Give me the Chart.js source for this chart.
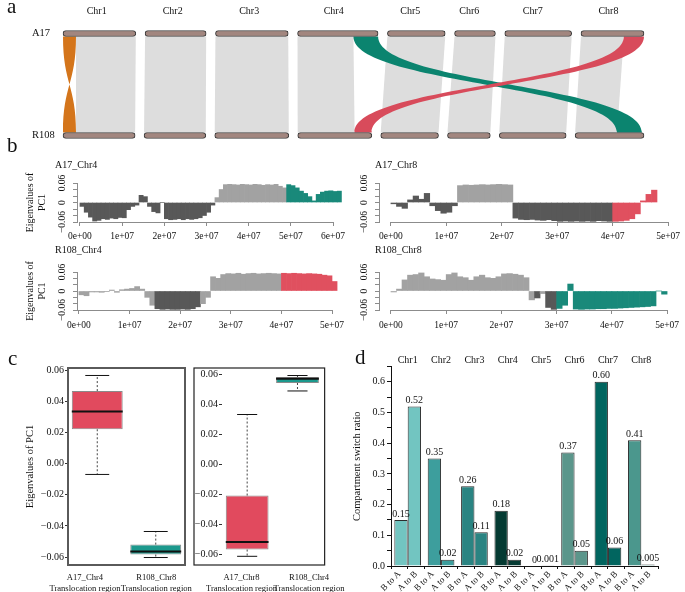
<!DOCTYPE html>
<html lang="en">
<head>
<meta charset="utf-8">
<title>A17 / R108 translocation and compartment switch</title>
<script src="https://cdn.jsdelivr.net/npm/chart.js@4.4.1/dist/chart.umd.min.js"></script>
<style>
* { margin: 0; padding: 0; box-sizing: border-box; }
body { width: 685px; height: 592px; background: #fff; position: relative; overflow: hidden;
  font-family: "Liberation Serif", "Times New Roman", serif; color: #111; }
canvas, .txt { position: absolute; }
.letter { font-size: 21px; line-height: 21px; }
.sub { font-size: 10px; line-height: 10px; }
</style>
</head>
<body>
<canvas id="cA" width="685" height="150" style="left:0;top:0"></canvas>
<canvas id="cB1" width="350" height="95" style="left:0;top:150px"></canvas>
<canvas id="cB2" width="340" height="95" style="left:345px;top:150px"></canvas>
<canvas id="cB3" width="350" height="95" style="left:0;top:240px"></canvas>
<canvas id="cB4" width="340" height="95" style="left:345px;top:240px"></canvas>
<canvas id="cC1" width="195" height="252" style="left:0;top:340px"></canvas>
<canvas id="cC2" width="158" height="252" style="left:190px;top:340px"></canvas>
<canvas id="cD" width="340" height="252" style="left:345px;top:340px"></canvas>

<div class="txt letter" style="left:7px;top:-4px">a</div>
<div class="txt letter" style="left:7px;top:135px">b</div>
<div class="txt letter" style="left:8px;top:348px">c</div>
<div class="txt letter" style="left:355px;top:347px">d</div>
<div class="txt sub" style="left:55px;top:160px">A17_Chr4</div>
<div class="txt sub" style="left:375px;top:160px">A17_Chr8</div>
<div class="txt sub" style="left:55px;top:245px">R108_Chr4</div>
<div class="txt sub" style="left:375px;top:245px">R108_Chr8</div>

<script>
Chart.defaults.font.family = '"Liberation Serif", "Times New Roman", serif';
Chart.defaults.font.size = 10;
Chart.defaults.color = '#111';
Chart.defaults.animation = false;
Chart.defaults.responsive = false;
Chart.defaults.events = [];
Chart.defaults.plugins.legend.display = false;
Chart.defaults.plugins.tooltip.enabled = false;

// ---------------- panel a: synteny between A17 and R108 ----------------
const chrNames = ['Chr1', 'Chr2', 'Chr3', 'Chr4', 'Chr5', 'Chr6', 'Chr7', 'Chr8'];
const genomes = ['A17', 'R108'];
const a17Length = [56, 47, 56, 62, 44.5, 31.5, 51.5, 48.5];
const r108Length = [55.5, 47.5, 57, 57, 44.5, 33, 51.5, 53];
// [chr, A17 start, A17 end, chr, R108 start, R108 end]
const grayLinks = [
  [0, 10, 56, 0, 10, 55.5], [1, 0, 47, 1, 0, 47.5], [2, 0, 56, 2, 0, 57],
  [3, 0, 43, 3, 0, 43.8], [4, 0, 44.5, 4, 0, 44.5], [5, 0, 31.5, 5, 0, 33],
  [6, 0, 51.5, 6, 0, 51.5], [7, 0, 33, 7, 0, 32.3]
];
const inversionLinks = [[0, 0, 10, 0, 0, 10]];
const tealLinks = [[3, 43, 62, 7, 32.3, 51.5]];
const redLinks = [[7, 33, 48.5, 3, 43.8, 57]];

const AXIS_SPAN = 447;
function rowOffsets(lens) {
  const gap = (AXIS_SPAN - lens.reduce((a, b) => a + b, 0)) / (lens.length - 1);
  let o = 0;
  return lens.map(l => { const s = o; o += l + gap; return s; });
}
const a17Off = rowOffsets(a17Length);
const r108Off = rowOffsets(r108Length);
const chromBars = [
  ...a17Length.map((l, i) => ({ x: [a17Off[i], a17Off[i] + l], y: 'A17' })),
  ...r108Length.map((l, i) => ({ x: [r108Off[i], r108Off[i] + l], y: 'R108' }))
];

const linkPlugin = {
  id: 'links',
  beforeDatasetsDraw(chart) {
    const { ctx, scales: { x, y } } = chart;
    const yt = y.getPixelForValue(0) + 3, yb = y.getPixelForValue(1) - 3, ym = (yt + yb) / 2;
    const draw = (links, color, curved, invert) => {
      ctx.fillStyle = color;
      links.forEach(([ct, t0, t1, cb, b0, b1]) => {
        const x0 = x.getPixelForValue(a17Off[ct] + t0), x1 = x.getPixelForValue(a17Off[ct] + t1);
        let u0 = x.getPixelForValue(r108Off[cb] + b0), u1 = x.getPixelForValue(r108Off[cb] + b1);
        if (invert) [u0, u1] = [u1, u0];
        ctx.beginPath();
        ctx.moveTo(x0, yt);
        ctx.lineTo(x1, yt);
        if (curved) ctx.bezierCurveTo(x1, ym, u1, ym, u1, yb); else ctx.lineTo(u1, yb);
        ctx.lineTo(u0, yb);
        if (curved) ctx.bezierCurveTo(u0, ym, x0, ym, x0, yt); else ctx.closePath();
        ctx.fill();
      });
    };
    ctx.save();
    draw(grayLinks, '#dddddd', false, false);
    draw(inversionLinks, '#d4751b', true, true);
    draw(tealLinks, '#0b846f', true, false);
    draw(redLinks, '#d84b5b', true, false);
    ctx.restore();
  }
};

new Chart(document.getElementById('cA'), {
  type: 'bar',
  data: { datasets: [{ data: chromBars, backgroundColor: '#a2867f', borderColor: '#3c3c3c',
    borderWidth: 1, borderRadius: 4, borderSkipped: false, barThickness: 6, clip: false }] },
  options: {
    indexAxis: 'y',
    layout: { padding: { left: 32, right: 41, top: 0, bottom: 14.5 } },
    scales: {
      y: { type: 'category', labels: genomes, offset: false,
        grid: { display: false }, border: { display: false },
        ticks: { crossAlign: 'far', font: { size: 10.5 } },
        afterFit: s => { s.width = 31; } },
      x: { type: 'linear', position: 'top', min: 0, max: AXIS_SPAN,
        grid: { display: false }, border: { display: false },
        afterBuildTicks: s => {
          s.ticks = chrNames.map((_, i) => ({ value: (a17Off[i] + a17Length[i] / 2 + r108Off[i] + r108Length[i] / 2) / 2 - 2 }));
        },
        ticks: { callback: (v, i) => chrNames[i], padding: 8.5, maxRotation: 0, autoSkip: false, font: { size: 10 } },
        afterFit: s => { s.height = 33.5; } }
    }
  },
  plugins: [linkPlugin]
});

// ---------------- panel b: PC1 eigenvalues, 1 Mb bins ----------------
const binSize = 1e6;
const a17Chr4 = [
  -0.012, -0.03, -0.045, -0.057, -0.055, -0.05, -0.052, -0.048, -0.05, -0.046,
  -0.047, -0.022, -0.012, -0.008, 0.022, 0.018, -0.012, -0.028, -0.032, 0,
  -0.05, -0.053, -0.052, -0.05, -0.053, -0.05, -0.052, -0.05, -0.047, -0.04,
  -0.03, -0.008, 0.015, 0.04, 0.055, 0.056, 0.055, 0.054, 0.056, 0.055,
  0.054, 0.056, 0.055, 0.053, 0.055, 0.054, 0.056, 0.05, 0.045, 0.055,
  0.052, 0.045, 0.035, 0.028, 0.018, 0.005, 0.025, 0.032, 0.035, 0.036,
  0.034, 0.035];
const a17Chr8 = [
  -0.004, -0.012, -0.018, 0.008, 0.02, 0.01, 0.028, -0.01, -0.025, -0.033,
  -0.03, -0.01, 0.052, 0.054, 0.053, 0.054, 0.055, 0.054, 0.055, 0.056,
  0.055, 0.054, -0.048, -0.052, -0.053, -0.052, -0.054, -0.055, -0.053, -0.056,
  -0.058, -0.057, -0.058, -0.057, -0.058, -0.057, -0.058, -0.056, -0.057, -0.058,
  -0.058, -0.057, -0.055, -0.05, -0.035, 0.005, 0.025, 0.038];
const r108Chr4 = [
  -0.012, -0.015, -0.003, -0.003, -0.004, -0.002, 0.003, -0.004, 0.004, 0.006,
  0.008, 0.014, 0.006, -0.02, -0.045, -0.056, -0.058, -0.057, -0.058, -0.058,
  -0.057, -0.058, -0.056, -0.05, -0.04, -0.02, 0.045, 0.04, 0.052, 0.055,
  0.054, 0.056, 0.053, 0.055, 0.056, 0.054, 0.055, 0.056, 0.055, 0.054,
  0.056, 0.055, 0.056, 0.055, 0.054, 0.055, 0.054, 0.053, 0.05, 0.048,
  0.03];
const r108Chr8 = [
  -0.003, 0.006, 0.035, 0.05, 0.052, 0.057, 0.045, 0.038, 0.036, 0.034,
  0.052, 0.057, 0.045, 0.042, 0.034, 0.045, 0.05, 0.042, 0.04, 0.045,
  0.054, 0.055, 0.053, 0.05, 0.042, -0.028, -0.022, -0.008, -0.052, -0.058,
  -0.055, -0.045, 0.022, -0.057, -0.058, -0.057, -0.057, -0.056, -0.056, -0.055,
  -0.055, -0.054, -0.053, -0.052, -0.051, -0.05, -0.049, -0.047, 0, -0.01];
// compartment class from a start bin on: A, B, or translocated (G teal / R red)
const a17Chr4Class = [[0, 'B'], [32, 'A'], [49, 'G']];
const a17Chr8Class = [[0, 'B'], [12, 'A'], [22, 'B'], [40, 'R']];
const r108Chr4Class = [[0, 'A'], [15, 'B'], [24, 'A'], [40, 'R']];
const r108Chr8Class = [[0, 'A'], [26, 'B'], [27, 'A'], [28, 'B'], [30, 'G']];
const classColor = { A: '#a2a2a2', B: '#585858', G: '#19897a', R: '#e0505f' };

function classAt(classes, i) {
  let c = classes[0][1];
  classes.forEach(([s, k]) => { if (i >= s) c = k; });
  return c;
}
const sci = v => v === 0 ? '0e+00' : Math.round(v / 1e7) + 'e+07';

const eigenAxis = {
  id: 'eigenAxis',
  afterDraw(chart) {
    const { ctx, chartArea, scales: { x } } = chart;
    const t = x.ticks;
    ctx.save();
    ctx.strokeStyle = '#8c8c8c';
    ctx.lineWidth = 1;
    ctx.beginPath();
    ctx.moveTo(x.getPixelForValue(t[0].value), chartArea.bottom + 0.5);
    ctx.lineTo(x.getPixelForValue(t[t.length - 1].value), chartArea.bottom + 0.5);
    ctx.stroke();
    ctx.restore();
  }
};

function eigenPlot(id, values, classes, tickMax, g) {
  const canvas = document.getElementById(id);
  const W = canvas.width, H = canvas.height;
  const per = tickMax / (g.p1 - g.p0);
  const tickVals = [];
  for (let v = 0; v <= tickMax; v += 1e7) tickVals.push(v);
  return new Chart(canvas, {
    type: 'bar',
    data: { datasets: [{
      data: values.map((v, i) => ({ x: (i + 0.5) * binSize, y: v })),
      backgroundColor: values.map((v, i) => classColor[classAt(classes, i)]),
      borderWidth: 0, barPercentage: 1, categoryPercentage: 1, clip: false }] },
    options: {
      layout: { padding: { left: 0, right: W - g.right, top: g.top, bottom: 0 } },
      scales: {
        x: { type: 'linear', min: (g.left - g.p0) * per, max: (g.right - g.p0) * per, offset: false,
          grid: { drawOnChartArea: false, tickLength: 4, color: '#8c8c8c', offset: false },
          border: { display: false },
          afterBuildTicks: s => { s.ticks = tickVals.map(v => ({ value: v })); },
          ticks: { callback: v => sci(v), padding: g.xpad, maxRotation: 0, autoSkip: false, font: { size: 9.5 } },
          afterFit: s => { s.height = H - g.bottom; } },
        y: { min: -0.06, max: 0.06,
          grid: { drawOnChartArea: false, tickLength: 4, color: '#8c8c8c' },
          border: { color: '#8c8c8c' },
          ticks: { stepSize: 0.02, minRotation: 90, maxRotation: 90, crossAlign: 'center', padding: 0,
            autoSkip: false, font: { size: 9.5 },
            callback: v => { const r = Math.round(v * 100); return r === 0 ? '0' : r === 6 ? '0.06' : r === -6 ? '\u22120.06' : ''; } },
          title: { display: !!g.ytitle, text: ['Eigenvalues of', 'PC1'], font: { size: 10 }, padding: { top: 24, bottom: 0 } },
          afterFit: s => { s.width = g.left; } }
      }
    },
    plugins: [eigenAxis]
  });
}

eigenPlot('cB1', a17Chr4, a17Chr4Class, 6e7, { left: 77, right: 348, top: 33, bottom: 72, p0: 80, p1: 337, xpad: 5, ytitle: true });
eigenPlot('cB2', a17Chr8, a17Chr8Class, 5e7, { left: 34, right: 325, top: 33, bottom: 72, p0: 46, p1: 325, xpad: 5 });
eigenPlot('cB3', r108Chr4, r108Chr4Class, 5e7, { left: 77, right: 346, top: 32, bottom: 70, p0: 79, p1: 341, xpad: 6, ytitle: true });
eigenPlot('cB4', r108Chr8, r108Chr8Class, 5e7, { left: 34, right: 323, top: 32, bottom: 70, p0: 46, p1: 323, xpad: 6 });

// ---------------- panel c: PC1 in translocation regions ----------------
const boxNames1 = [['A17_Chr4', 'Translocation region'], ['R108_Chr8', 'Translocation region']];
const box1Low = [-0.007, -0.0603];
const box1Q1 = [0.022, -0.0584];
const box1Median = [0.0334, -0.0565];
const box1Q3 = [0.0465, -0.052];
const box1High = [0.0565, -0.0436];
const boxNames2 = [['A17_Chr8', 'Translocation region'], ['R108_Chr4', 'Translocation region']];
const box2Low = [-0.0615, 0.0487];
const box2Q1 = [-0.057, 0.054];
const box2Median = [-0.052, 0.0568];
const box2Q3 = [-0.021, 0.058];
const box2High = [0.033, 0.059];
const boxTicks = [-0.06, -0.04, -0.02, 0, 0.02, 0.04, 0.06];
const boxColors = ['#e14a5e', '#1c998d'];

const boxExtras = {
  id: 'boxExtras',
  afterDatasetsDraw(chart, args, o) {
    const { ctx, scales: { y } } = chart;
    ctx.save();
    chart.getDatasetMeta(0).data.forEach((b, i) => {
      const half = b.width / 2, cap = half * 0.47;
      const py = v => y.getPixelForValue(v);
      ctx.strokeStyle = '#444';
      ctx.lineWidth = 1;
      ctx.setLineDash([2, 2]);
      ctx.beginPath();
      ctx.moveTo(b.x, py(o.q3[i])); ctx.lineTo(b.x, py(o.high[i]));
      ctx.moveTo(b.x, py(o.q1[i])); ctx.lineTo(b.x, py(o.low[i]));
      ctx.stroke();
      ctx.setLineDash([]);
      ctx.strokeStyle = '#111';
      ctx.beginPath();
      ctx.moveTo(b.x - cap, py(o.high[i])); ctx.lineTo(b.x + cap, py(o.high[i]));
      ctx.moveTo(b.x - cap, py(o.low[i])); ctx.lineTo(b.x + cap, py(o.low[i]));
      ctx.stroke();
      ctx.lineWidth = 2;
      ctx.beginPath();
      ctx.moveTo(b.x - half, py(o.median[i])); ctx.lineTo(b.x + half, py(o.median[i]));
      ctx.stroke();
    });
    const a = chart.chartArea;
    ctx.strokeStyle = o.frameColor;
    ctx.lineWidth = o.frameWidth;
    ctx.strokeRect(a.left - o.frameLeft, a.top, a.right - a.left + o.frameLeft + o.frameRight, a.bottom - a.top);
    ctx.restore();
  }
};

function boxPlot(id, names, q1, q3, extras, g) {
  const canvas = document.getElementById(id);
  const W = canvas.width, H = canvas.height;
  return new Chart(canvas, {
    type: 'bar',
    data: { labels: names, datasets: [{ data: q1.map((v, i) => [v, q3[i]]), backgroundColor: boxColors,
      borderColor: '#8a8a8a', borderWidth: 1, borderSkipped: false,
      barPercentage: g.barPct, categoryPercentage: 1 }] },
    options: {
      layout: { padding: { left: 0, right: W - g.right, top: g.top, bottom: 0 } },
      plugins: { boxExtras: extras },
      scales: {
        x: { grid: { display: false }, border: { display: false }, ticks: { display: false },
          afterFit: s => { s.height = 0; } },
        names: { type: 'linear', axis: 'x', position: 'bottom', min: 0, max: 1, offset: false,
          grid: { display: false, offset: false }, border: { display: false },
          afterBuildTicks: s => { s.ticks = g.labelAt.map(v => ({ value: v })); },
          ticks: { callback: (v, i) => names[i], padding: 0, maxRotation: 0, autoSkip: false,
            font: { size: 8.6, lineHeight: 1.2 } },
          afterFit: s => { s.height = H - g.bottom; } },
        y: { min: g.ymin, max: g.ymax,
          grid: { drawOnChartArea: false, tickLength: 3, color: '#333' },
          border: { display: false },
          afterBuildTicks: s => { s.ticks = boxTicks.map(v => ({ value: v })); },
          ticks: { padding: 1, font: { size: 10 },
            callback: v => (v < 0 ? '\u2212' : '') + Math.abs(v).toFixed(2) },
          title: { display: !!g.ytitle, text: 'Eigenvalues of PC1', font: { size: 10.5 }, padding: { top: 24, bottom: 0 } },
          afterFit: s => { s.width = g.left; } }
      }
    },
    plugins: [boxExtras]
  });
}

boxPlot('cC1', boxNames1, box1Q1, box1Q3,
  { low: box1Low, q1: box1Q1, median: box1Median, q3: box1Q3, high: box1High, frameColor: '#5a5a5a', frameWidth: 2, frameLeft: 0, frameRight: 0 },
  { left: 68, right: 185, top: 28, bottom: 225, ymin: -0.0651, ymax: 0.0613, barPct: 0.87, ytitle: true, labelAt: [0.145, 0.755] });
boxPlot('cC2', boxNames2, box2Q1, box2Q3,
  { low: box2Low, q1: box2Q1, median: box2Median, q3: box2Q3, high: box2High, frameColor: '#222', frameWidth: 1.2, frameLeft: 28, frameRight: 2 },
  { left: 32, right: 143, top: 28, bottom: 225, ymin: -0.0673, ymax: 0.064, barPct: 0.85, labelAt: [0.194, 0.865] });

// ---------------- panel d: compartment switch ratio ----------------
const bToA = [0.15, 0.35, 0.26, 0.18, 0, 0.37, 0.60, 0.41];
const aToB = [0.52, 0.02, 0.11, 0.02, 0.001, 0.05, 0.06, 0.005];
const switchLabels = chrNames.flatMap(() => ['B to A', 'A to B']);
const chrColors = ['#72c5c1', '#3d9e9d', '#2a8482', '#043a32', '#3a3a3a', '#5b968b', '#01655f', '#4b978d'];

const fmtRatio = v => v === 0 ? '0' : v < 0.01 ? String(v) : v.toFixed(2);
const valueLabels = {
  id: 'valueLabels',
  afterDatasetsDraw(chart) {
    const { ctx } = chart;
    ctx.save();
    ctx.font = '10px "Liberation Serif", serif';
    ctx.fillStyle = '#111';
    ctx.textAlign = 'center';
    ctx.textBaseline = 'bottom';
    chart.data.datasets.forEach((ds, di) => {
      chart.getDatasetMeta(di).data.forEach((bar, i) => ctx.fillText(fmtRatio(ds.data[i]), bar.x, bar.y - 1));
    });
    ctx.restore();
  }
};

new Chart(document.getElementById('cD'), {
  type: 'bar',
  data: { labels: chrNames, datasets: [
    { label: 'B to A', data: bToA, backgroundColor: chrColors, borderColor: '#2c2c2c', borderWidth: 1 },
    { label: 'A to B', data: aToB, backgroundColor: chrColors, borderColor: '#2c2c2c', borderWidth: 1 }
  ] },
  options: {
    datasets: { bar: { categoryPercentage: 0.8, barPercentage: 1 } },
    layout: { padding: { left: 0, right: 27, top: 0, bottom: 0 } },
    scales: {
      x: { position: 'top', offset: true, grid: { display: false }, border: { display: false },
        ticks: { padding: -7.5, maxRotation: 0, font: { size: 10 } },
        afterFit: s => { s.height = 26.5; } },
      x2: { type: 'category', axis: 'x', position: 'bottom', labels: switchLabels, offset: true,
        grid: { offset: true, drawOnChartArea: false, tickLength: 3, color: '#111' },
        border: { display: true, color: '#111' },
        ticks: { minRotation: 45, maxRotation: 45, autoSkip: false, padding: 0, font: { size: 9 } },
        afterFit: s => { s.height = 26; } },
      y: { min: 0, max: 0.65,
        grid: { drawOnChartArea: false, tickLength: 4, color: '#111' },
        border: { color: '#111' },
        ticks: { stepSize: 0.05, padding: 2, autoSkip: false, font: { size: 10 },
          callback: v => Math.abs(v * 10 - Math.round(v * 10)) < 1e-6 ? v.toFixed(1) : '' },
        title: { display: true, text: 'Compartment switch ratio', font: { size: 10.5 }, padding: { top: 6, bottom: 0 } },
        afterFit: s => { s.width = 46; } }
    }
  },
  plugins: [valueLabels]
});
</script>
</body>
</html>
